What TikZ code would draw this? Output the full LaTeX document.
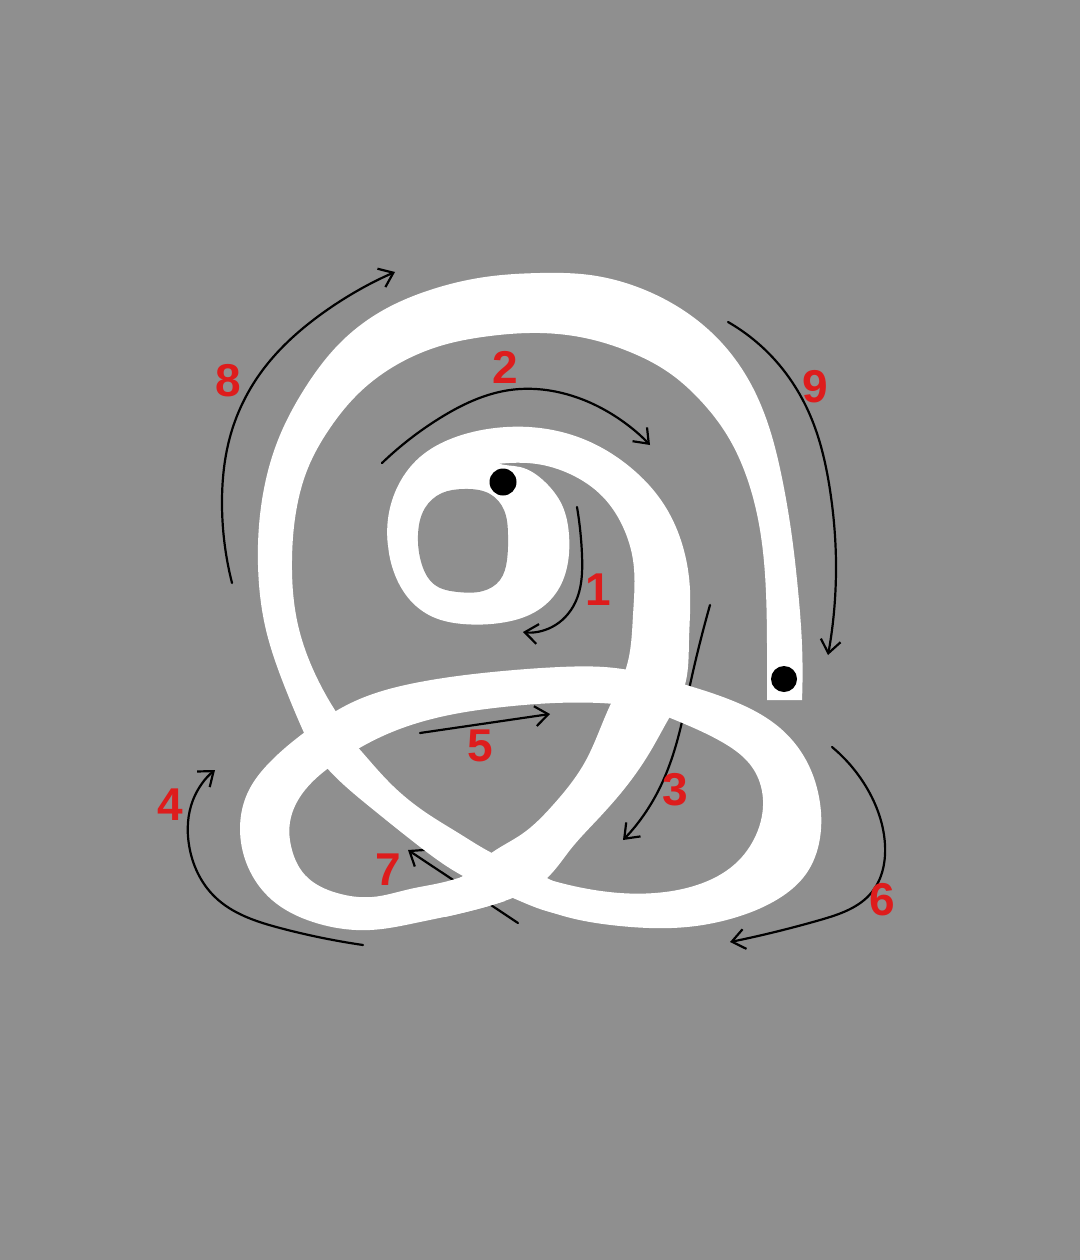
\documentclass[tikz,border=0pt]{standalone}
\usepackage{fontspec}
\setmainfont{Liberation Sans}
\usetikzlibrary{arrows.meta,hobby}
\definecolor{bg}{RGB}{143,143,143}
\definecolor{numred}{RGB}{222,28,28}
\begin{document}
\begin{tikzpicture}[x=1pt,y=-1pt,
  arr/.style={line width=2.2pt,line cap=round,use Hobby shortcut,-{Straight Barb[length=13pt,width=20pt]}},
  num/.style={text=numred,font=\fontsize{46}{46}\selectfont\bfseries,inner sep=0pt},
  ink/.style={fill=white,use Hobby shortcut}]
\fill[bg] (0,0) rectangle (1080,1260);
% stroke-order arrows (drawn under the letter)
\draw[arr] (577,507) .. (582,555) .. (575,603) .. (552,627) .. (523,632);
\draw[arr] (382,463) .. (440,418) .. (510,390) .. (562,393) .. (610,413) .. (650,445);
\draw[arr] (710,605) .. (690,685) .. (676,745) .. (655,797) .. (623,840);
\draw[arr] (363,945) .. (280,928) .. (215,897) .. (189,845) .. (193,800) .. (215,770);
\draw[arr] (420,733) -- (550,714);
\draw[arr] (832,747) .. (868,790) .. (885,845) .. (872,892) .. (820,920) .. (730,942);
\draw[arr] (518,923) -- (408,850);
\draw[arr] (232,583) .. (222,500) .. (232,430) .. (265,367) .. (320,315) .. (395,272);
\draw[arr] (728,322) .. (775,360) .. (810,415) .. (830,490) .. (836,570) .. (828,655);
% the letter
% big outer loop (strokes 8, 9)
\fill[ink] (305,735) .. (284,685) .. (266,630) .. (258,565) .. (262,500) .. (278,440) .. (305,388) .. (340,343) .. (380,312) .. (430,290) .. (485,277) .. (540,273) .. (590,275) .. (645,290) .. (693,317) .. (728,350) .. (753,388) .. (770,430) .. (782,478) .. (791,530) .. (798,590) .. (802,645) .. (802,700)
  -- (767,700) .. (767,645) .. (766,593) .. (760,530) .. (747,478) .. (727,435) .. (700,400) .. (668,372) .. (630,352) .. (585,338) .. (540,333) .. (490,336) .. (440,346) .. (398,364) .. (360,392) .. (330,428) .. (308,468) .. (296,512) .. (292,560) .. (298,625) .. (318,680) .. (345,725) -- cycle;
% strokes 2, 3
\fill[ink] (388,545) .. (396,490) .. (420,457) .. (453,438) .. (495,428) .. (540,428) .. (588,441) .. (630,467) .. (663,503) .. (683,547) .. (690,590) .. (689,640) .. (684,688) .. (668,720) .. (650,752) .. (625,788) .. (597,820) .. (570,850) .. (547,878) .. (515,897) .. (470,911) .. (445,917)
  -- (445,884) .. (463,876) .. (490,854) .. (522,834) .. (553,805) .. (585,762) .. (608,710) .. (627,665) .. (633,615) .. (633,560) .. (623,527) .. (603,497) .. (570,474) .. (537,464) .. (497,464) .. (450,477) .. (410,530) -- cycle;
% strokes 4, 5, 6
\fill[ink] (505,901) .. (462,913) .. (420,922) .. (370,930) .. (313,922) .. (272,900) .. (248,867) .. (240,828) .. (248,792) .. (270,762) .. (305,732) .. (353,702) .. (420,682) .. (503,671) .. (560,667) .. (615,668) .. (683,684) .. (738,703) .. (780,728) .. (806,760) .. (819,797) .. (820,838) .. (806,874) .. (778,899) .. (737,917) .. (687,927) .. (620,926) .. (567,917) .. (540,908)
  -- (550,880) .. (583,888) .. (620,893) .. (655,893) .. (697,885) .. (735,864) .. (756,835) .. (763,800) .. (752,767) .. (722,742) .. (680,722) .. (640,708) .. (600,703) .. (555,703) .. (503,707) .. (440,717) .. (385,735) .. (340,760) .. (305,790) .. (290,822) .. (292,850) .. (305,875) .. (337,893) .. (372,897) .. (410,889) .. (440,883) .. (470,874) -- cycle;
% stroke 7 diagonal
\fill[ink] (335,722) .. (362,752) .. (393,786) .. (425,812) .. (460,834) .. (490,852) .. (525,868) .. (555,882)
  -- (570,916) .. (540,909) .. (513,898) .. (463,876) .. (415,843) .. (370,807) .. (327,768) .. (305,738) -- cycle;
% inner ring (stroke 1)
\fill[ink,closed=true] (497,463) .. (520,467) .. (545,482) .. (562,505) .. (569,535) .. (568,562) .. (558,590) .. (535,612) .. (500,623) .. (463,624) .. (433,617) .. (410,600) .. (395,575) .. (388,545) .. (391,510) .. (403,482) .. (425,458) .. (455,446) .. (480,452);
\fill[bg,use Hobby shortcut,closed=true] (464,489) .. (490,494) .. (504,510) .. (508,535) .. (507,560) .. (500,580) .. (483,591) .. (458,592) .. (435,585) .. (422,565) .. (418,535) .. (425,508) .. (442,493);
% start and end dots
\fill[black] (503,482) circle[radius=13.5pt];
\fill[black] (784,679) circle[radius=13pt];
% numbers
\node[num] (n1) at (598,590) {1};
\node[num] (n2) at (505,367) {2};
\node[num] (n3) at (675,790) {3};
\node[num] (n4) at (170,805) {4};
\node[num] (n5) at (480,746) {5};
\node[num] (n6) at (882,900) {6};
\node[num] (n7) at (388,870) {7};
\node[num] (n8) at (228,381) {8};
\node[num] (n9) at (815,387) {9};
\end{tikzpicture}
\end{document}
